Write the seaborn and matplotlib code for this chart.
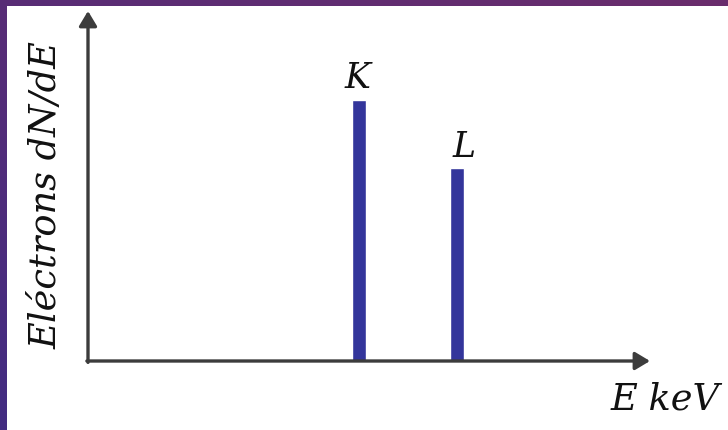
import numpy as np
import pandas as pd
import matplotlib
matplotlib.use("Agg")
import matplotlib.pyplot as plt
import seaborn as sns

# Characteristic lines of the electron spectrum (relative intensity)
shells = ["K", "L"]
intensity = [0.746, 0.551]

df = pd.DataFrame({"shell": shells, "intensity": intensity})

sns.set_theme(style="white")
plt.rcParams["font.family"] = ["DejaVu Serif"]

W, H = 728, 431
fig = plt.figure(figsize=(W / 100, H / 100), dpi=100)

# purple slide backdrop with a soft diagonal gradient
bg = fig.add_axes([0, 0, 1, 1], zorder=-2)
gy, gx = np.mgrid[0:1:200j, 0:1:300j]
t = np.clip(0.55 * gy + 0.45 * (1 - gx), 0, 1)
top = np.array([0x6a, 0x2c, 0x6c]) / 255
bot = np.array([0x42, 0x2c, 0x82]) / 255
img = top[None, None, :] * (1 - t[..., None]) + bot[None, None, :] * t[..., None]
bg.imshow(img, aspect="auto", extent=[0, 1, 0, 1], origin="upper")
bg.axis("off")

# white content panel
fig.patches.append(plt.Rectangle((7 / W, 0), 1, 1 - 7 / H, transform=fig.transFigure,
                                 facecolor="white", edgecolor="none", zorder=-1))

# plotting area spans the two arrows
x0, x1 = 88, 650
y0, y1 = 362, 12
ax = fig.add_axes([x0 / W, 1 - y0 / H, (x1 - x0) / W, (y0 - y1) / H])
ax.set_facecolor("none")

sns.barplot(data=df, x="shell", y="intensity", color="#33359b", saturation=1,
            width=0.143, ax=ax)
ax.set_ylim(0, 1.0)
px = 98.0  # pixels per category step
ax.set_xlim(-(359 - x0) / px, 1 + (x1 - 457) / px)

for s in ax.spines.values():
    s.set_visible(False)
ax.set_xticks([])
ax.set_yticks([])
ax.set_xlabel("")
ax.set_ylabel("")

arrow = dict(arrowstyle="-|>,head_length=0.75,head_width=0.45", color="#3c3c3c",
             lw=2.4, shrinkA=0, shrinkB=0)
ax.annotate("", xy=(1, 0), xytext=(-0.002, 0), xycoords="axes fraction",
            arrowprops=arrow, annotation_clip=False)
ax.annotate("", xy=(0, 1), xytext=(0, -0.004), xycoords="axes fraction",
            arrowprops=arrow, annotation_clip=False)

# shell labels above each bar
for i, (name, val) in enumerate(zip(shells, intensity)):
    ax.annotate(name, xy=(i, val), xytext=(-1 if i == 0 else 5, 4),
                textcoords="offset points", ha="center", va="bottom",
                fontsize=25, fontstyle="italic", color="#111111")

fig.text(665 / W, 1 - 400 / H, "E keV", ha="center", va="center",
         fontsize=26.5, fontstyle="italic", color="#111111")
fig.text(47 / W, 1 - 195 / H, "Eléctrons dN/dE", ha="center", va="center",
         rotation=90, fontsize=26.5, fontstyle="italic", color="#111111")

fig.savefig("out.png", dpi=100)
